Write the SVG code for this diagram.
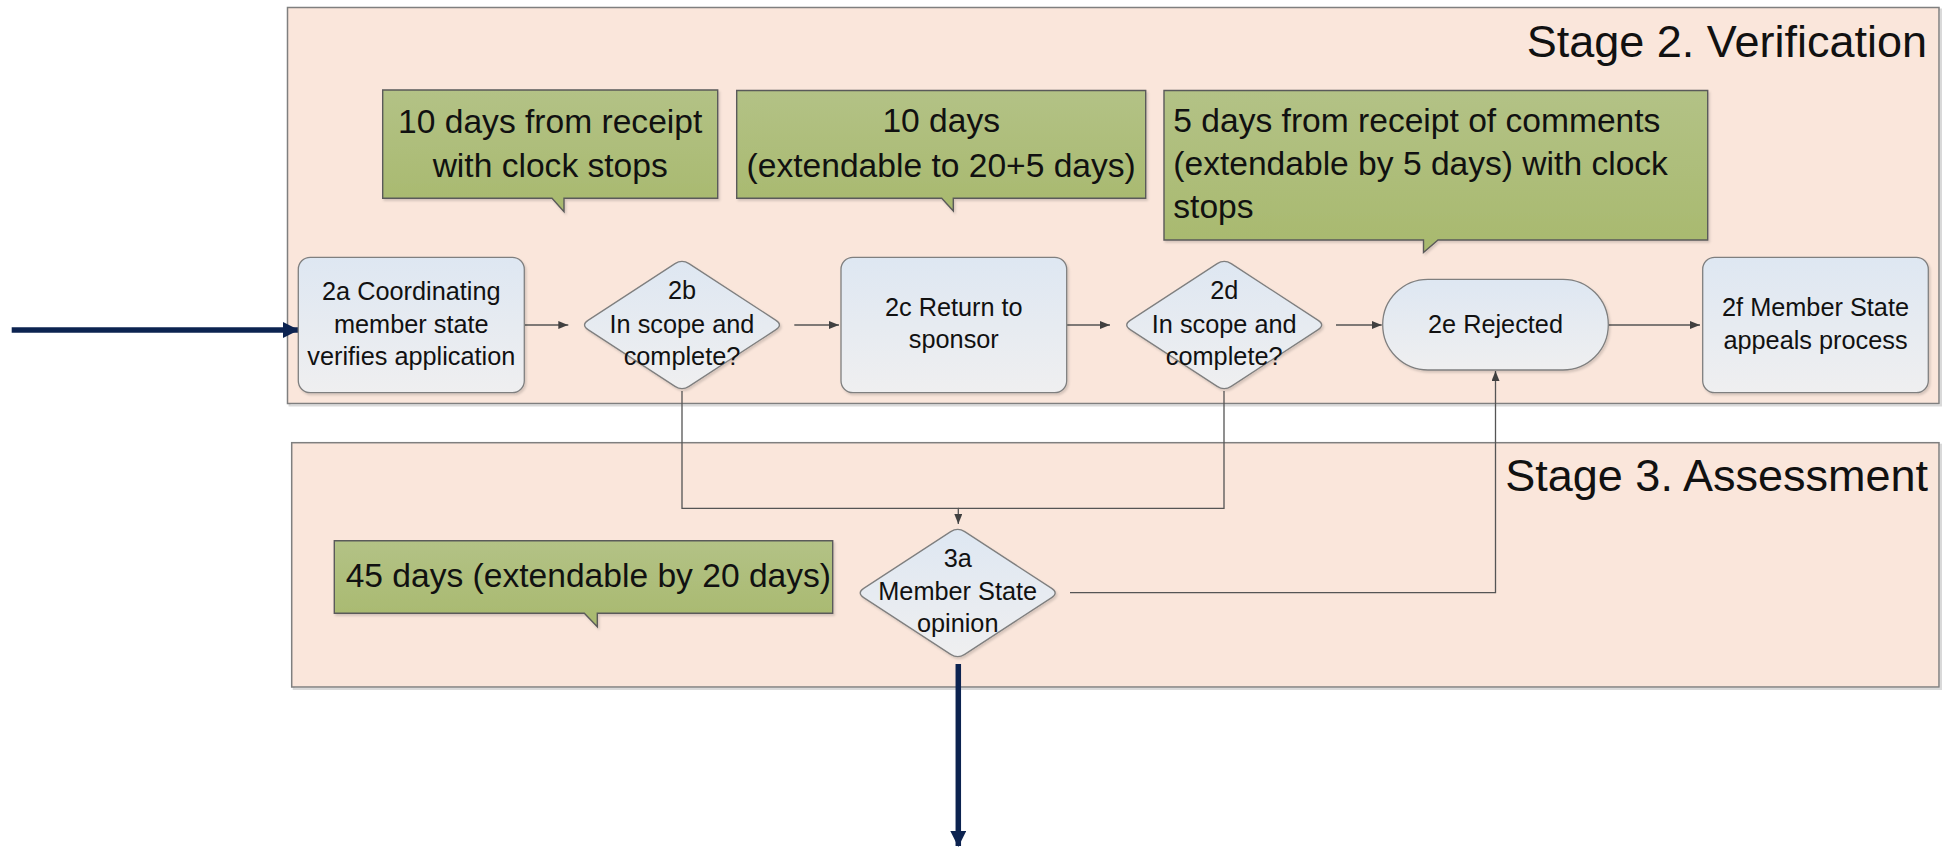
<svg xmlns="http://www.w3.org/2000/svg" width="1947" height="851" viewBox="0 0 1947 851">
  <style>
    .stage { fill: #FAE6DB; stroke: #7F7F7F; stroke-width: 1.5; }
    .stage-shadow { fill: none; stroke: #D9D9D9; stroke-width: 2; }
    .stage-title { font-family: "Liberation Sans", Arial, sans-serif; font-size: 45px; fill: #111; text-anchor: end; }
    .node { fill: url(#nodeFill); stroke: #7F7F7F; stroke-width: 1.3; filter: url(#soft); }
    .note { fill: url(#noteFill); stroke: #5A5A5A; stroke-width: 1.4; filter: url(#soft); }
    .label { font-family: "Liberation Sans", Arial, sans-serif; font-size: 25.3px; fill: #111; text-anchor: middle; }
    .note-text { font-family: "Liberation Sans", Arial, sans-serif; font-size: 33.6px; fill: #111; }
    .mid { text-anchor: middle; }
    .conn { fill: none; stroke: #555; stroke-width: 1.3; }
    .flow { fill: none; stroke: #0C2350; stroke-width: 5.5; }
  </style>
  <defs>
    <linearGradient id="nodeFill" x1="0" y1="0" x2="0" y2="1">
      <stop offset="0" stop-color="#DEE7F2"/>
      <stop offset="1" stop-color="#EFEFF0"/>
    </linearGradient>
    <linearGradient id="noteFill" x1="0" y1="0" x2="0" y2="1">
      <stop offset="0" stop-color="#B3C286"/>
      <stop offset="1" stop-color="#A8B96E"/>
    </linearGradient>
    <filter id="soft" x="-5%" y="-5%" width="115%" height="120%">
      <feDropShadow dx="1.5" dy="2" stdDeviation="1" flood-color="#000" flood-opacity="0.15"/>
    </filter>
    <!-- decision shape, centred on 0,0 -->
    <path id="decision" d="M -94,-4.6 L -7,-61.4 Q 0,-66 7,-61.4 L 94,-4.6 Q 101,0 94,4.6 L 7,61.4 Q 0,66 -7,61.4 L -94,4.6 Q -101,0 -94,-4.6 Z"/>
    <marker id="arrow" markerUnits="userSpaceOnUse" markerWidth="10" markerHeight="8" refX="10" refY="4" orient="auto">
      <path d="M0,0 L10,4 L0,8 Z" fill="#404040"/>
    </marker>
    <marker id="bigArrow" markerUnits="userSpaceOnUse" markerWidth="16" markerHeight="16" refX="15" refY="8" orient="auto">
      <path d="M0,0 L16,8 L0,16 Z" fill="#0C2350"/>
    </marker>
  </defs>

  <!-- swimlane containers -->
  <g id="stage2">
    <rect class="stage-shadow" x="289.5" y="9.5" width="1651.5" height="396"/>
    <rect class="stage" x="287.5" y="7.5" width="1651.5" height="396"/>
    <text class="stage-title" x="1927" y="57">Stage 2. Verification</text>
  </g>
  <g id="stage3">
    <rect class="stage-shadow" x="293.7" y="444.7" width="1647.3" height="244.3"/>
    <rect class="stage" x="291.7" y="442.7" width="1647.3" height="244.3"/>
    <text class="stage-title" x="1928" y="491">Stage 3. Assessment</text>
  </g>

  <!-- duration notes -->
  <g id="note-2b">
    <path class="note" d="M382.7,90 H717.7 V198.3 H564 V211.7 L552,198.3 H382.7 Z"/>
    <text class="note-text mid" x="550.2" y="132.7">10 days from receipt</text>
    <text class="note-text mid" x="550.2" y="176.7">with clock stops</text>
  </g>
  <g id="note-2c">
    <path class="note" d="M736.7,90.5 H1145.7 V198.3 H953.3 V211 L941.7,198.3 H736.7 Z"/>
    <text class="note-text mid" x="941.2" y="131.7">10 days</text>
    <text class="note-text mid" x="941.2" y="176.7">(extendable to 20+5 days)</text>
  </g>
  <g id="note-2e">
    <path class="note" d="M1164,90.5 H1707.7 V240 H1438 L1423.5,252.5 V240 H1164 Z"/>
    <text class="note-text" x="1173.3" y="131.7">5 days from receipt of comments</text>
    <text class="note-text" x="1173.3" y="175">(extendable by 5 days) with clock</text>
    <text class="note-text" x="1173.3" y="218.3">stops</text>
  </g>
  <g id="note-3a">
    <path class="note" d="M334.3,540.7 H832.7 V613.3 H597.3 V626.7 L584.3,613.3 H334.3 Z"/>
    <text class="note-text" x="345.7" y="586.7">45 days (extendable by 20 days)</text>
  </g>

  <!-- connectors -->
  <g id="connectors">
    <path class="flow" d="M11.7,330 H298" marker-end="url(#bigArrow)"/>
    <path class="flow" d="M958.3,664 V846" marker-end="url(#bigArrow)"/>
    <path class="conn" d="M524.3,325 H568.3" marker-end="url(#arrow)"/>
    <path class="conn" d="M794.3,325 H839" marker-end="url(#arrow)"/>
    <path class="conn" d="M1066.7,325 H1110" marker-end="url(#arrow)"/>
    <path class="conn" d="M1336,325 H1381.7" marker-end="url(#arrow)"/>
    <path class="conn" d="M1608.3,325 H1700" marker-end="url(#arrow)"/>
    <path class="conn" d="M682,391 V508.3 H958.3 V524" marker-end="url(#arrow)"/>
    <path class="conn" d="M1224,391 V508.3 H958.3"/>
    <path class="conn" d="M1070,592.7 H1495.5 V371" marker-end="url(#arrow)"/>
  </g>

  <!-- process steps -->
  <g id="node-2a">
    <rect class="node" x="298.3" y="257.3" width="226" height="135.4" rx="12"/>
    <text class="label" x="411.3" y="300">2a Coordinating</text>
    <text class="label" x="411.3" y="332.7">member state</text>
    <text class="label" x="411.3" y="365">verifies application</text>
  </g>
  <g id="node-2b">
    <use href="#decision" class="node" transform="translate(682,325)"/>
    <text class="label" x="682" y="299.3">2b</text>
    <text class="label" x="682" y="332.7">In scope and</text>
    <text class="label" x="682" y="365">complete?</text>
  </g>
  <g id="node-2c">
    <rect class="node" x="841" y="257.3" width="225.7" height="135.4" rx="12"/>
    <text class="label" x="953.8" y="316">2c Return to</text>
    <text class="label" x="953.8" y="348">sponsor</text>
  </g>
  <g id="node-2d">
    <use href="#decision" class="node" transform="translate(1224.2,325)"/>
    <text class="label" x="1224.2" y="299.3">2d</text>
    <text class="label" x="1224.2" y="332.7">In scope and</text>
    <text class="label" x="1224.2" y="365">complete?</text>
  </g>
  <g id="node-2e">
    <rect class="node" x="1382.7" y="279.3" width="225.6" height="90.7" rx="45.3"/>
    <text class="label" x="1495.5" y="333.3">2e Rejected</text>
  </g>
  <g id="node-2f">
    <rect class="node" x="1702.7" y="257.3" width="225.6" height="135.4" rx="12"/>
    <text class="label" x="1815.5" y="316">2f Member State</text>
    <text class="label" x="1815.5" y="348.5">appeals process</text>
  </g>
  <g id="node-3a">
    <use href="#decision" class="node" transform="translate(957.7,593)"/>
    <text class="label" x="957.7" y="567.3">3a</text>
    <text class="label" x="957.7" y="600">Member State</text>
    <text class="label" x="957.7" y="632">opinion</text>
  </g>
</svg>
